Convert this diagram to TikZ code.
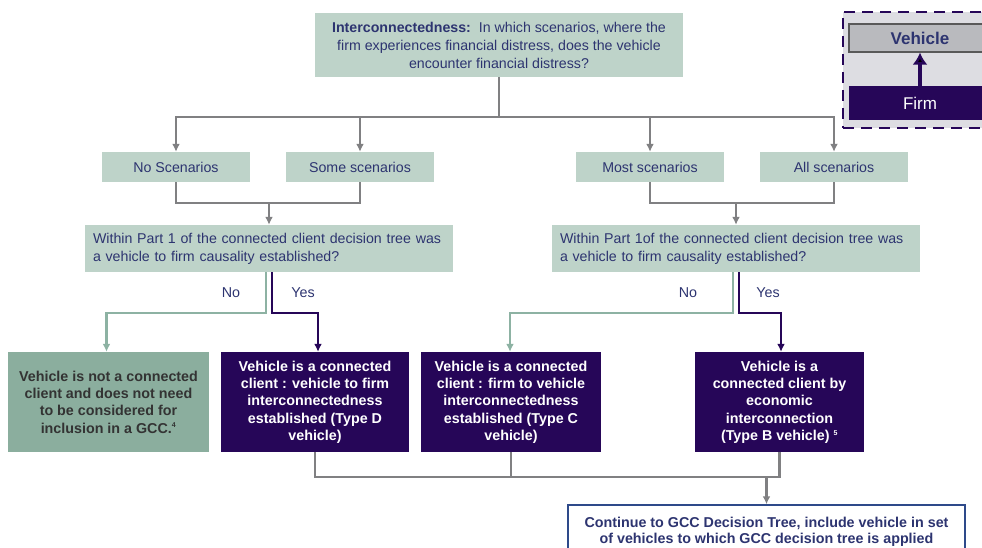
\documentclass[tikz,border=0pt]{standalone}
\usepackage{fontspec}
\setmainfont{Liberation Sans}
\usetikzlibrary{arrows.meta,positioning,calc}
\definecolor{sage}{RGB}{190,211,201}
\definecolor{darksage}{RGB}{139,174,158}
\definecolor{navytext}{RGB}{45,52,112}
\definecolor{deeppurple}{RGB}{38,6,88}
\definecolor{nogreen}{RGB}{141,178,163}
\definecolor{linegray}{RGB}{128,128,130}
\definecolor{legendbg}{RGB}{221,221,226}
\definecolor{vehgray}{RGB}{185,186,190}
\definecolor{finblue}{RGB}{46,74,138}
\tikzstyle{question}=[rectangle,fill=sage,text=navytext,inner sep=0pt,
font=\fontsize{14.2}{18}\selectfont]
\tikzstyle{scen}=[question,minimum width=148pt,minimum height=30pt]
\tikzstyle{result}=[rectangle,fill=deeppurple,text=white,align=center,inner sep=0pt,
minimum height=100pt,font=\bfseries\fontsize{14.3}{17.3}\selectfont]
\tikzstyle{noresult}=[result,fill=darksage,text=black!80]
\tikzstyle{gline}=[draw=linegray,line width=2.2pt]
\tikzstyle{noline}=[draw=nogreen,line width=2.2pt]
\tikzstyle{yesline}=[draw=deeppurple,line width=2.2pt]
\tikzstyle{answer}=[text=navytext,font=\fontsize{14.3}{18}\selectfont]

\begin{document}
\begin{tikzpicture}[x=1pt,y=-1pt,>={Latex[length=8pt,width=8pt]}]
            \useasboundingbox (0,0) rectangle (982,548);
            \clip (0,0) rectangle (982,548);

            % LEGEND PART

            \node[rectangle,dash pattern=on 11pt off 7pt,draw=deeppurple,line width=2.8pt,
                  fill=legendbg,minimum width=146pt,minimum height=116pt] (legend) at (916,70) {};
            \node[rectangle,draw=black!65,line width=1.2pt,fill=vehgray,text=navytext,
                  minimum width=142pt,minimum height=28pt,font=\bfseries\fontsize{17}{20}\selectfont] (vehicle) at (920,38) {Vehicle};
            \node[rectangle,fill=deeppurple,text=white,minimum width=142pt,minimum height=34pt,
                  font=\fontsize{17}{20}\selectfont] (firm) at (920,103) {Firm};
            \path[-{Latex[length=12pt,width=15pt]},draw=deeppurple,line width=4pt] (firm) edge (vehicle);

            % SCENARIO PART

            \node[question,minimum width=368pt,minimum height=64pt,align=center] (inter) at (499,45)
                {\textbf{Interconnectedness:}\ \ In which scenarios, where the\\firm experiences financial distress, does the vehicle\\encounter financial distress?};
            \node[scen] (none) at (176,167) {No Scenarios};
            \node[scen] (some) at (360,167) {Some scenarios};
            \node[scen] (most) at (650,167) {Most scenarios};
            \node[scen] (all)  at (834,167) {All scenarios};

            \draw[gline] (inter.south) -- ++(0,40) coordinate (split);
            \draw[gline,->] (split) -| (none.north);
            \draw[gline,->] (split) -| (some.north);
            \draw[gline,->] (split) -| (most.north);
            \draw[gline,->] (split) -| (all.north);

            % CAUSALITY PART

            \node[question,minimum width=368pt,minimum height=47pt,text width=352pt,align=left] (q1) at (269,248.5)
                {Within Part 1 of the connected client decision tree was\\a vehicle to firm causality established?};
            \node[question,minimum width=368pt,minimum height=47pt,text width=352pt,align=left] (q2) at (736,248.5)
                {Within Part 1of the connected client decision tree was\\a vehicle to firm causality established?};

            \coordinate (m1) at ($(q1.north)+(0,-22)$);
            \coordinate (m2) at ($(q2.north)+(0,-22)$);
            \draw[gline] (none.south) |- (m1) -| (some.south);
            \draw[gline] (most.south) |- (m2) -| (all.south);
            \draw[gline,->] (m1) -- (q1.north);
            \draw[gline,->] (m2) -- (q2.north);

            % RESULT PART

            \node[noresult,minimum width=201pt] (typeA) at (108.5,402)
                {Vehicle is not a connected\\client and does not need\\to be considered for\\inclusion in a GCC.\textsuperscript{\fontsize{7}{8}\selectfont 4}};
            \node[result,minimum width=188pt] (typeD) at (315,402)
                {Vehicle is a connected\\client : vehicle to firm\\interconnectedness\\established (Type D\\vehicle)};
            \node[result,minimum width=180pt] (typeC) at (511,402)
                {Vehicle is a connected\\client : firm to vehicle\\interconnectedness\\established (Type C\\vehicle)};
            \node[result,minimum width=169pt] (typeB) at (779.5,402)
                {Vehicle is a\\connected client by\\economic\\interconnection\\(Type B vehicle) \textsuperscript{\fontsize{7}{8}\selectfont 5}};

            \draw[noline,->] ($(q1.south)+(-3,0)$) -- ++(0,41) -| ($(typeA.north)+(-2,0)$);
            \draw[yesline,->] ($(q1.south)+(3,0)$) -- ++(0,41) -| ($(typeD.north)+(3,0)$);
            \draw[noline,->] ($(q2.south)+(-3,0)$) -- ++(0,41) -| ($(typeC.north)+(-1,0)$);
            \draw[yesline,->] ($(q2.south)+(3,0)$) -- ++(0,41) -| ($(typeB.north)+(1.5,0)$);

            \node[answer] (no1)  at (231,293) {No};
            \node[answer] (yes1) at (303,293) {Yes};
            \node[answer] (no2)  at (688,293) {No};
            \node[answer] (yes2) at (768,293) {Yes};

            % CONTINUE PART

            \node[rectangle,draw=finblue,line width=1.5pt,fill=white,text=navytext,align=center,
                  minimum width=397pt,minimum height=54pt,font=\bfseries\fontsize{14.3}{16.5}\selectfont] (cont) at (766.5,532)
                {Continue to GCC Decision Tree, include vehicle in set\\of vehicles to which GCC decision tree is applied};

            \coordinate (m3) at ($(cont.north)+(0,-27)$);
            \draw[gline] (typeD.south) |- (m3);
            \draw[gline] (typeC.south) -- (typeC.south |- m3);
            \draw[gline] (typeB.south) |- (m3);
            \draw[gline,->] (m3) -- (cont.north);

        \end{tikzpicture}
\end{document}
